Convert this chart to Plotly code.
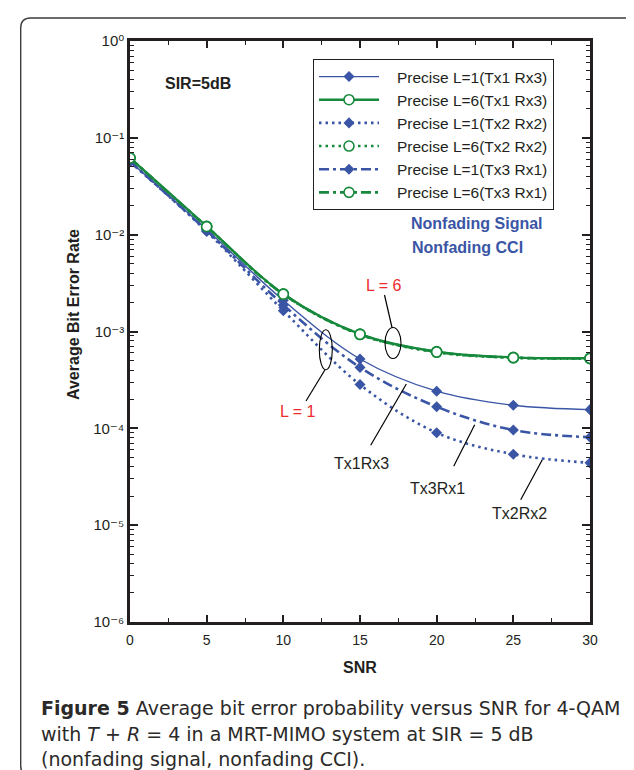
import plotly.graph_objects as go

# ---------------- data ----------------
snr = [0, 5, 10, 15, 20, 25, 30]

ber_L1_tx1rx3 = [0.057, 0.0113, 0.0021, 5.2e-4, 2.42e-4, 1.73e-4, 1.56e-4]
ber_L6_tx1rx3 = [0.062, 0.0122, 0.00244, 9.4e-4, 6.2e-4, 5.4e-4, 5.3e-4]
ber_L1_tx2rx2 = [0.0565, 0.0108, 0.00164, 2.83e-4, 9.0e-5, 5.4e-5, 4.4e-5]
ber_L6_tx2rx2 = [0.0615, 0.0121, 0.00242, 9.3e-4, 6.1e-4, 5.35e-4, 5.25e-4]
ber_L1_tx3rx1 = [0.057, 0.011, 0.00188, 4.26e-4, 1.67e-4, 9.6e-5, 8.1e-5]
ber_L6_tx3rx1 = [0.0618, 0.0121, 0.00243, 9.35e-4, 6.15e-4, 5.37e-4, 5.28e-4]

series_names = [
    "Precise L=1(Tx1 Rx3)",
    "Precise L=6(Tx1 Rx3)",
    "Precise L=1(Tx2 Rx2)",
    "Precise L=6(Tx2 Rx2)",
    "Precise L=1(Tx3 Rx1)",
    "Precise L=6(Tx3 Rx1)",
]

y_tick_vals = [1, 1e-1, 1e-2, 1e-3, 1e-4, 1e-5, 1e-6]
y_tick_text = ["10\u2070", "10\u207b\u00b9", "10\u207b\u00b2", "10\u207b\u00b3",
               "10\u207b\u2074", "10\u207b\u2075", "10\u207b\u2076"]
x_tick_vals = [0, 5, 10, 15, 20, 25, 30]

# ---------------- style ----------------
BLUE = "#3A55A5"
GREEN = "#17893C"
RED = "#EE2A2E"
INK = "#231F20"
FONT = "Liberation Sans, Arial, DejaVu Sans, sans-serif"

# plot area in pixels
L, R, T, B = 122, 582, 33, 614
W, H = 634, 770


def px(x):
    return (x - L) / (R - L)


def py(y):
    return (B - y) / (B - T)


fig = go.Figure()

series = [ber_L1_tx1rx3, ber_L6_tx1rx3, ber_L1_tx2rx2, ber_L6_tx2rx2, ber_L1_tx3rx1, ber_L6_tx3rx1]
dashes = ["solid", "solid", "2.5px,4px", "2.5px,4px", "10px,4px,3px,4px", "10px,4px,3px,4px"]
widths = [1.4, 2.3, 2.6, 2.6, 2.6, 2.6]
PAD = "\u00a0\u00a0\u00a0"

for i, (yv, name) in enumerate(zip(series, series_names)):
    is_l1 = (i % 2 == 0)
    col = BLUE if is_l1 else GREEN
    if is_l1:
        marker = dict(symbol="diamond", size=8.5, color=BLUE, line=dict(width=0))
    else:
        marker = dict(symbol="circle", size=10, color="white", line=dict(color=GREEN, width=1.6))
    fig.add_trace(go.Scatter(
        x=snr, y=yv, name=PAD + name, mode="lines+markers",
        line=dict(color=col, width=widths[i], dash=dashes[i], shape="spline", smoothing=1.0),
        marker=marker,
    ))

annotations = []
shapes = []


def text(x, y, s, size=16, color=INK, bold=False, xanchor="center", angle=0, family=FONT):
    annotations.append(dict(
        xref="paper", yref="paper", x=px(x), y=py(y), text=("<b>%s</b>" % s) if bold else s,
        showarrow=False, xanchor=xanchor, yanchor="middle", textangle=angle,
        font=dict(family=family, size=size, color=color),
    ))


def seg(x0, y0, x1, y1, width=1.2, color="black"):
    shapes.append(dict(type="line", xref="paper", yref="paper",
                       x0=px(x0), y0=py(y0), x1=px(x1), y1=py(y1),
                       line=dict(color=color, width=width)))


def ellipse(cx, cy, w, h):
    shapes.append(dict(type="circle", xref="paper", yref="paper",
                       x0=px(cx - w / 2), x1=px(cx + w / 2), y0=py(cy + h / 2), y1=py(cy - h / 2),
                       line=dict(color="black", width=1.1)))


# in-plot labels
text(190, 75, "SIR=5dB", size=16, bold=True)
text(400.5, 215, "Nonfading Signal", size=16, color=BLUE, bold=True, xanchor="left")
text(401.5, 239.5, "Nonfading CCI", size=16, color=BLUE, bold=True, xanchor="left")
text(376, 277, "L = 6", size=16, color=RED)
text(290, 404, "L = 1", size=16, color=RED)
text(353.5, 456, "Tx1Rx3", size=16)
text(429.5, 480, "Tx3Rx1", size=16)
text(511, 505.5, "Tx2Rx2", size=16)

# y axis title
text(65, 307, "Average Bit Error Rate", size=16, bold=True, angle=-90)

ellipse(385, 335, 16, 31)
ellipse(317.8, 341.7, 13, 40)
seg(384, 319.5, 376.5, 287)
seg(317, 361.7, 298, 393)
seg(398.3, 376, 362.7, 437.3)
seg(466.7, 416.7, 445.7, 458.3)
seg(534.3, 451.7, 512.7, 491.7)

# caption
CAP = "DejaVu Sans, Open Sans, sans-serif"
cap_lines = [
    "<b>Figure 5</b> Average bit error probability versus SNR for 4-QAM",
    "with <i>T</i> + <i>R</i> = 4 in a MRT-MIMO system at SIR = 5 dB",
    "(nonfading signal, nonfading CCI).",
]
for s, yy in zip(cap_lines, [700, 725.5, 751.5]):
    annotations.append(dict(
        xref="paper", yref="paper", x=px(30.5), y=py(yy), text=s, showarrow=False,
        xanchor="left", yanchor="middle",
        font=dict(family=CAP, size=19, color="#2B2A29"),
    ))

# rounded frame around figure (right side runs off the page)
r = 10
xl, yt, yb, xr = 12.7, 10, 767.7, 660
path = ("M {a},{b} L {a},{c} Q {a},{d} {e},{d} L {f},{d} L {f},{g} L {e},{g} Q {a},{g} {a},{h} Z"
        .format(a=px(xl), b=py(yt + r), c=py(yb - r), d=py(yb), e=px(xl + r),
                f=px(xr), g=py(yt), h=py(yt + r)))
shapes.append(dict(type="path", xref="paper", yref="paper", path=path,
                   line=dict(color="#3C3C3C", width=1.4), layer="below"))

axis_common = dict(
    showline=True, linecolor=INK, linewidth=2.5, mirror="ticks",
    ticks="inside", tickcolor=INK, showgrid=False, zeroline=False,
)

fig.update_layout(
    width=W, height=H,
    margin=dict(l=L, r=W - R, t=T, b=H - B),
    paper_bgcolor="white", plot_bgcolor="white",
    font=dict(family=FONT, color=INK),
    xaxis=dict(range=[0, 30], tickvals=x_tick_vals, ticklen=7, tickwidth=2,
               ticklabelstandoff=3,
               tickfont=dict(family=FONT, size=14, color=INK),
               title=dict(text="<b>SNR</b>", standoff=16,
                          font=dict(family=FONT, size=16, color=INK)),
               minor=dict(ticks="inside", dtick=2.5, ticklen=4, tickwidth=1, tickcolor=INK, showgrid=False),
               **axis_common),
    yaxis=dict(type="log", range=[-6, 0], tickvals=y_tick_vals, ticktext=y_tick_text,
               ticklen=8, tickwidth=2,
               tickfont=dict(family=FONT, size=15, color=INK),
               minor=dict(ticks="inside", dtick="D1", ticklen=4, tickwidth=1, tickcolor=INK, showgrid=False),
               **axis_common),
    legend=dict(x=px(305), y=py(51), xanchor="left", yanchor="top",
                bgcolor="white", bordercolor=INK, borderwidth=1,
                itemwidth=60, font=dict(family=FONT, size=15.5, color=INK),
                tracegroupgap=0),
    annotations=annotations,
    shapes=shapes,
    showlegend=True,
)

fig.write_html("out.html")
